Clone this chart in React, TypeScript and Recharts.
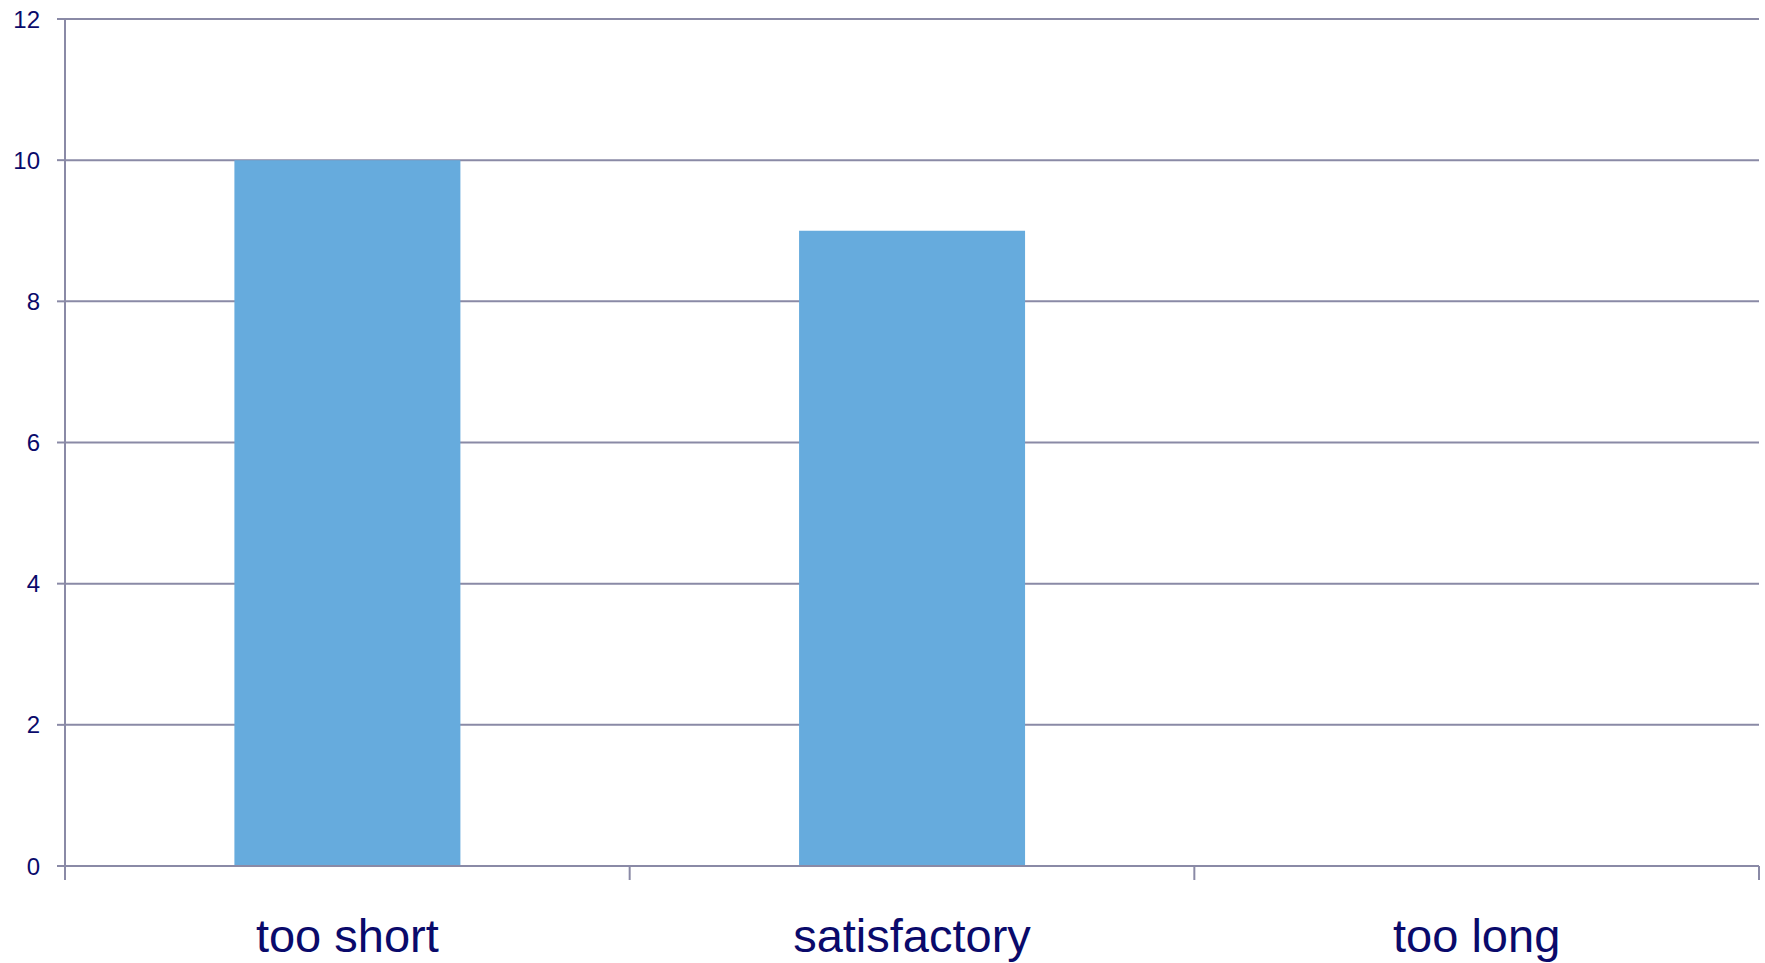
import React from 'react';
import { BarChart, Bar, XAxis, YAxis, CartesianGrid } from 'recharts';

const categories = ['too short', 'satisfactory', 'too long'];
const responses = [10, 9, 0];
const yTicks = [0, 2, 4, 6, 8, 10, 12];

const data = categories.map((name, i) => ({ name, count: responses[i] }));

const WIDTH = 1765;
const HEIGHT = 963;
const MARGIN = { top: 19, right: 6, left: 0, bottom: 0 };
const Y_AXIS_WIDTH = 65;
const X_AXIS_HEIGHT = 97;

const NAVY = '#0a0a6b';
const AXIS = '#8a8aa6';
const BAR = '#66abdd';

const plotWidth = WIDTH - MARGIN.left - MARGIN.right - Y_AXIS_WIDTH;
const band = plotWidth / categories.length;

// Category label plus tick marks on the band edges (Excel style)
const CategoryTick = (props: any) => {
  const { x, y, payload, index } = props;
  const left = x - band / 2;
  const right = x + band / 2;
  return (
    <g>
      <line x1={left} y1={y} x2={left} y2={y + 14} stroke={AXIS} strokeWidth={2} />
      {index === categories.length - 1 && (
        <line x1={right} y1={y} x2={right} y2={y + 14} stroke={AXIS} strokeWidth={2} />
      )}
      <text x={x} y={y + 86} textAnchor="middle" fill={NAVY} fontSize={47} fontFamily="'Liberation Sans', Arial, sans-serif">
        {payload.value}
      </text>
    </g>
  );
};

const App: React.FC = () => {
  return (
    <div style={{ position: 'absolute', left: 0, top: 0, width: WIDTH, height: HEIGHT, background: '#fff' }}>
      <BarChart width={WIDTH} height={HEIGHT} data={data} margin={MARGIN} barCategoryGap="30%">
        <CartesianGrid vertical={false} stroke={AXIS} strokeWidth={2} />
        <XAxis
          dataKey="name"
          height={X_AXIS_HEIGHT}
          axisLine={{ stroke: AXIS, strokeWidth: 2 }}
          tickLine={false}
          tickSize={0}
          tickMargin={0}
          interval={0}
          tick={<CategoryTick />}
        />
        <YAxis
          width={Y_AXIS_WIDTH}
          domain={[0, 12]}
          ticks={yTicks}
          interval={0}
          axisLine={{ stroke: AXIS, strokeWidth: 2 }}
          tickLine={{ stroke: AXIS, strokeWidth: 2 }}
          tickSize={8}
          tickMargin={17}
          tick={{ fill: NAVY, fontSize: 24, fontFamily: "'Liberation Sans', Arial, sans-serif" }}
        />
        <Bar dataKey="count" fill={BAR} isAnimationActive={false} />
      </BarChart>
    </div>
  );
};

export default App;
